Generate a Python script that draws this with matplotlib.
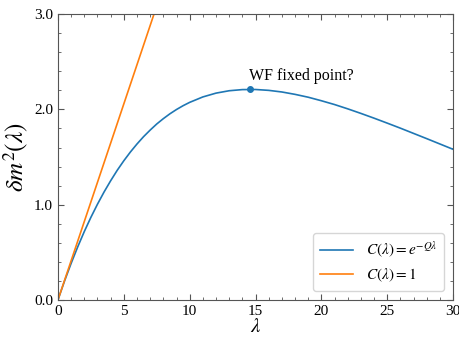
import numpy as np
import matplotlib
matplotlib.use('Agg')
import matplotlib.pyplot as plt
from matplotlib.ticker import MultipleLocator

# values
lam = [0, 0.5, 1, 1.5, 2, 2.5, 3, 3.5, 4, 4.5, 5, 5.5, 6, 6.5, 7, 7.5, 8, 8.5, 9, 9.5,
       10, 11, 12, 13, 14, 15, 16, 17, 18, 19, 20,
       21, 22, 23, 24, 25, 26, 27, 28, 29, 30]
dm2_exp = [0.0, 0.199, 0.384, 0.557, 0.718, 0.867, 1.005, 1.133, 1.251, 1.361,
           1.461, 1.553, 1.637, 1.714, 1.783, 1.847, 1.903, 1.954, 1.999, 2.039,
           2.074, 2.131, 2.171, 2.196, 2.208, 2.209, 2.200, 2.183, 2.158, 2.128, 2.091,
           2.051, 2.006, 1.958, 1.908, 1.856, 1.803, 1.748, 1.693, 1.637, 1.581]
lam_const = [0, 7.29]
dm2_const = [0.0, 3.0]
peak_x, peak_y = 14.6, 2.21

plt.rcParams['font.family'] = 'Liberation Serif'
plt.rcParams['mathtext.fontset'] = 'stix'

fig, ax = plt.subplots(figsize=(4.6, 3.37), dpi=100)
fig.subplots_adjust(left=0.126, right=0.985, top=0.958, bottom=0.11)

ax.plot(lam, dm2_exp, color='#1f77b4', lw=1.2, label=r'$C(\lambda) = e^{-Q\lambda}$')
ax.plot(lam_const, dm2_const, color='#ff7f0e', lw=1.2, label=r'$C(\lambda) = 1$')
ax.plot(peak_x, peak_y, 'o', color='#1f77b4', ms=4)
ax.text(18.5, 2.35, 'WF fixed point?', ha='center', va='center', fontsize=11.5)

ax.set_xlim(0, 30)
ax.set_ylim(0, 3.0)
ax.xaxis.set_major_locator(MultipleLocator(5))
ax.xaxis.set_minor_locator(MultipleLocator(1))
ax.yaxis.set_major_locator(MultipleLocator(1.0))
ax.yaxis.set_minor_locator(MultipleLocator(0.2))
ax.set_yticklabels(['%.1f' % v for v in ax.get_yticks()])
ax.tick_params(which='both', direction='in', top=True, right=True, labelsize=11, colors='#555555', labelcolor='black')
ax.tick_params(which='major', length=4)
ax.tick_params(which='minor', length=2)
for s in ax.spines.values():
    s.set_color('#555555')

ax.set_xlabel(r'$\lambda$', fontsize=15, labelpad=0)
ax.set_ylabel(r'$\delta m^2(\lambda)$', fontsize=18, labelpad=2)
ax.legend(loc='lower right', fontsize=11, handlelength=2.2, borderpad=0.45,
          labelspacing=0.4, borderaxespad=0.6)

plt.savefig('out.png', dpi=100)
